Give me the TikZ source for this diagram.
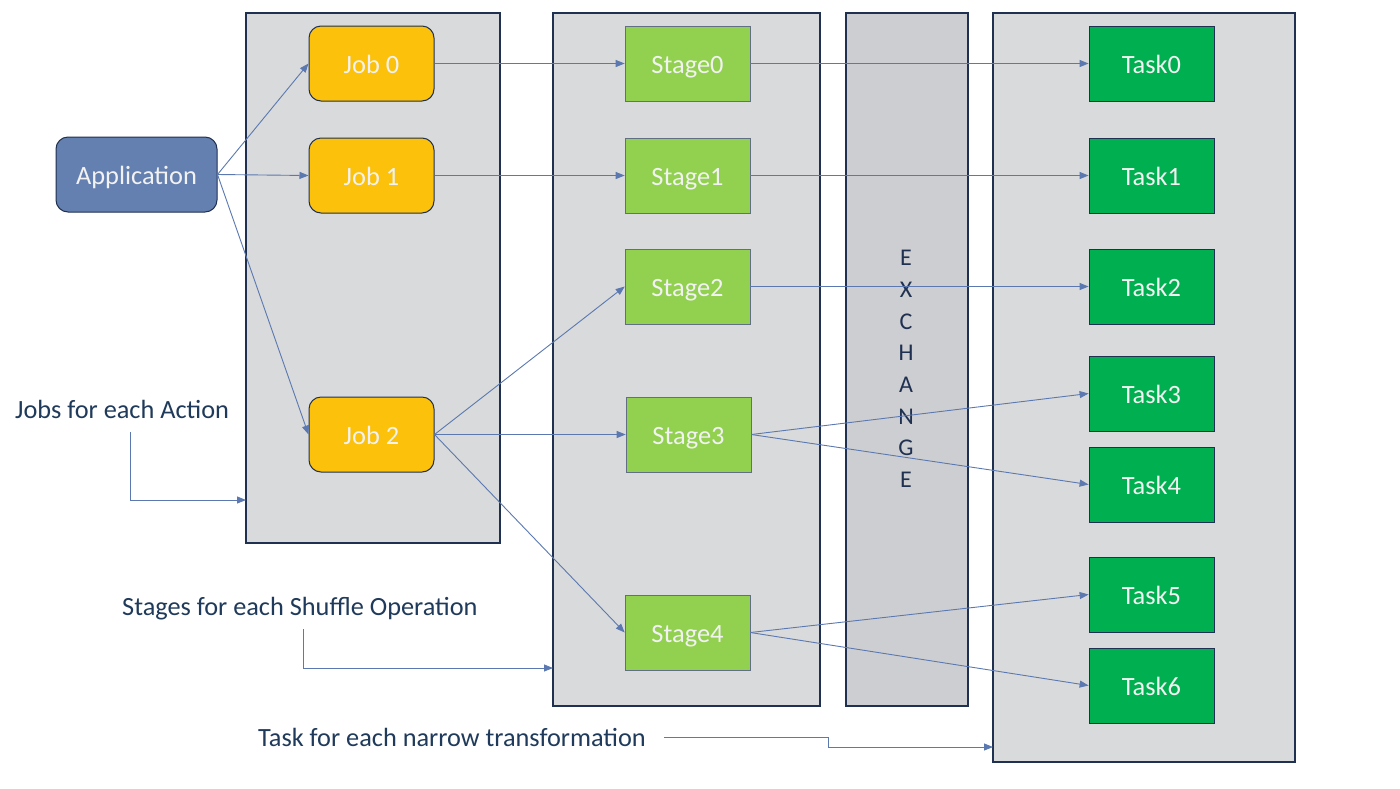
\documentclass[tikz,border=0pt]{standalone}
\usepackage{fontspec}
\setmainfont{Carlito}
\usetikzlibrary{arrows.meta}
\definecolor{panelfill}{HTML}{D9DADB}
\definecolor{exfill}{HTML}{CDCED1}
\definecolor{navy}{HTML}{1F3050}
\definecolor{appfill}{HTML}{6480B0}
\definecolor{jobfill}{HTML}{FCC10A}
\definecolor{stagefill}{HTML}{92D050}
\definecolor{taskfill}{HTML}{00B050}
\definecolor{conn}{HTML}{5B79B0}
\definecolor{labeltxt}{HTML}{1F3A5A}
\tikzset{
  panel/.style={draw=navy, line width=1.3pt, fill=panelfill, inner sep=0pt},
  expanel/.style={draw=navy, line width=1.3pt, fill=exfill, inner sep=0pt},
  boxtext/.style={text=white!95!black, font=\fontsize{26.4}{30}\selectfont, text height=21pt, text depth=1pt},
  appbox/.style={boxtext, draw=navy, line width=1pt, fill=appfill, rounded corners=12pt, minimum width=161pt, minimum height=75pt},
  jobbox/.style={boxtext, draw=navy, line width=1pt, fill=jobfill, rounded corners=12pt, minimum width=125pt, minimum height=75pt},
  stagebox/.style={boxtext, draw=navy!70, line width=0.6pt, fill=stagefill, minimum width=125pt, minimum height=75pt},
  taskbox/.style={boxtext, draw=navy, line width=0.8pt, fill=taskfill, minimum width=125pt, minimum height=75pt},
  conn/.style={draw=conn, line width=0.9pt, -{Triangle[length=9pt,width=7pt]}},
  lbl/.style={text=labeltxt, font=\fontsize{26.3}{30}\selectfont, inner sep=0pt, anchor=base west}
}
\begin{document}
\begin{tikzpicture}[x=1pt,y=-1pt]
\useasboundingbox[fill=white] (0,0) rectangle (1400,788);
% panels
\node[panel, minimum width=254pt, minimum height=530pt] (p1) at (373,278) {};
\node[panel, minimum width=267pt, minimum height=693pt] (p2) at (686.5,359.5) {};
\node[expanel, minimum width=122pt, minimum height=693pt] (p3) at (907,359.5) {};
\node[panel, minimum width=302pt, minimum height=749pt] (p4) at (1144,387.5) {};
% exchange text
\node[text=navy, font=\fontsize{24}{31.7}\selectfont, align=center, inner sep=0pt] (ex) at (906,369) {E\\X\\C\\H\\A\\N\\G\\E};
% boxes
\node[appbox] (app) at (136.5,174.5) {Application};
\node[jobbox] (j0) at (371.5,63.5) {Job 0};
\node[jobbox] (j1) at (371.5,175.5) {Job 1};
\node[jobbox] (j2) at (371.5,434.5) {Job 2};
\node[stagebox] (s0) at (687.5,63.5) {Stage0};
\node[stagebox] (s1) at (687.5,175.5) {Stage1};
\node[stagebox] (s2) at (687.5,286.5) {Stage2};
\node[stagebox] (s3) at (688.5,434.5) {Stage3};
\node[stagebox] (s4) at (687.5,632.5) {Stage4};
\node[taskbox] (t0) at (1151.5,63.5) {Task0};
\node[taskbox] (t1) at (1151.5,175.5) {Task1};
\node[taskbox] (t2) at (1151.5,286.5) {Task2};
\node[taskbox] (t3) at (1151.5,393.5) {Task3};
\node[taskbox] (t4) at (1151.5,484.5) {Task4};
\node[taskbox] (t5) at (1151.5,594.5) {Task5};
\node[taskbox] (t6) at (1151.5,685.5) {Task6};
% connectors
\draw[conn] (app.east) -- (j0.west);
\draw[conn] (app.east) -- (j1.west);
\draw[conn] (app.east) -- (j2.west);
\draw[conn] (j0.east) -- (s0.west);
\draw[conn] (j1.east) -- (s1.west);
\draw[conn] (j2.east) -- (s2.west);
\draw[conn] (j2.east) -- (s3.west);
\draw[conn] (j2.east) -- (s4.west);
\draw[conn] (s0.east) -- (t0.west);
\draw[conn] (s1.east) -- (t1.west);
\draw[conn] (s2.east) -- (t2.west);
\draw[conn] (s3.east) -- (t3.west);
\draw[conn] (s3.east) -- (t4.west);
\draw[conn] (s4.east) -- (t5.west);
\draw[conn] (s4.east) -- (t6.west);
% labels
\node[lbl] (l1) at (15,418) {Jobs for each Action};
\node[lbl] (l2) at (122,615) {Stages for each Shuffle Operation};
\node[lbl] (l3) at (258,746) {Task for each narrow transformation};
% label connectors
\coordinate (c1a) at (130,432);
\coordinate (c1b) at (246,500);
\draw[conn] (c1a) |- (c1b);
\coordinate (c2a) at (303,629);
\coordinate (c2b) at (553,668);
\draw[conn] (c2a) |- (c2b);
\coordinate (c3a) at (664,737);
\coordinate (c3m) at (828,737);
\coordinate (c3b) at (993,747);
\draw[conn] (c3a) -- (c3m) |- (c3b);
\end{tikzpicture}
\end{document}
